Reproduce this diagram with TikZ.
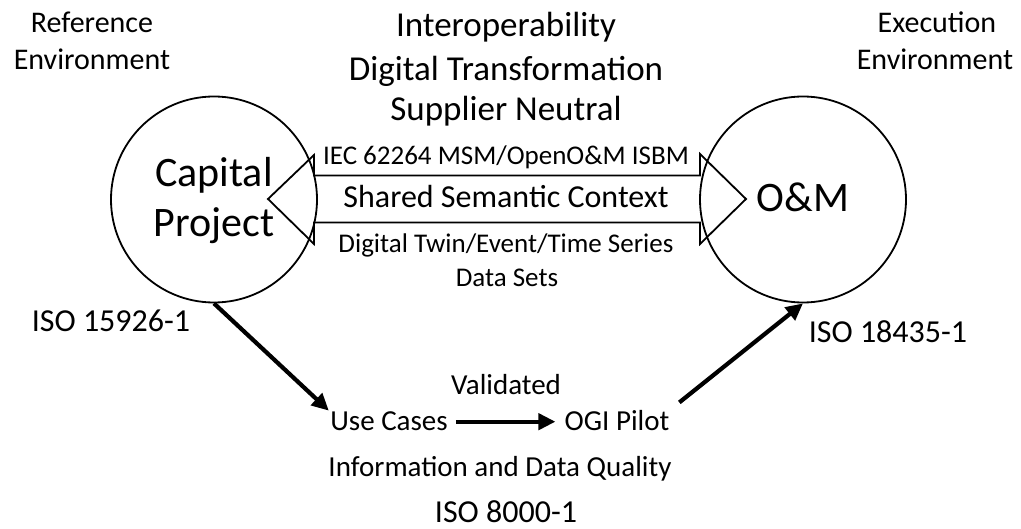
\documentclass[tikz,border=0pt]{standalone}
\usepackage{fontspec}
\setmainfont{Carlito}
\usetikzlibrary{arrows.meta}
\begin{document}
\begin{tikzpicture}[x=1pt,y=-1pt,
  lbl/.style={anchor=base, inner sep=2pt},
  env/.style={lbl, font=\fontsize{30}{36}\selectfont},
  headline/.style={lbl, font=\fontsize{35}{42}\selectfont},
  std/.style={lbl, font=\fontsize{27}{32}\selectfont},
  ctx/.style={lbl, font=\fontsize{32}{38}\selectfont},
  big/.style={lbl, font=\fontsize{42}{50}\selectfont},
  iso/.style={lbl, font=\fontsize{32}{38}\selectfont},
  flow/.style={lbl, font=\fontsize{29}{35}\selectfont},
  ring/.style={circle, draw, line width=1.8pt, minimum size=206pt, inner sep=0pt},
  fat arrow/.style={line width=4.2pt, -{Triangle[length=17pt,width=16pt]}},
]
\useasboundingbox (0,0) rectangle (1021,529);

% shared-context double block arrow
\draw[line width=1.8pt, fill=white, line join=miter]
  (268,199) -- (314,155) -- (314,175.5) -- (700,175.5) -- (700,154)
  -- (746,199) -- (700,244) -- (700,222.5) -- (314,222.5) -- (314,244) -- cycle;

% environments
\node[ring] (cp) at (214,199.5) {};
\node[ring] (om) at (803,199.5) {};
\node[big] (capital) at (214,187) {Capital};
\node[big] (project) at (214,237) {Project};
\node[big] (omtext) at (803,212) {O\&M};

% headings
\node[env] (ref1) at (92,33) {Reference};
\node[env] (ref2) at (92,70) {Environment};
\node[env] (exe1) at (937,33) {Execution};
\node[env] (exe2) at (935,70) {Environment};
\node[headline] (h1) at (506,37) {Interoperability};
\node[headline] (h2) at (506,81) {Digital Transformation};
\node[headline] (h3) at (506,121) {Supplier Neutral};

% block arrow labels
\node[std] (iec) at (506,165) {IEC 62264 MSM/OpenO\&M ISBM};
\node[ctx] (shared) at (506,208) {Shared Semantic Context};
\node[std] (twin) at (506,253) {Digital Twin/Event/Time Series};
\node[std] (sets) at (507,287) {Data Sets};

% standards
\node[iso] (iso1) at (111,332) {ISO 15926-1};
\node[iso] (iso2) at (888,343) {ISO 18435-1};
\node[iso] (iso3) at (506,522) {ISO 8000-1};

% validation flow
\node[flow] (val) at (506,395) {Validated};
\node[flow] (uc) at (389,431) {Use Cases};
\node[flow] (ogi) at (617,431) {OGI Pilot};
\node[flow] (idq) at (500,477) {Information and Data Quality};

\draw[fat arrow, shorten >=-1pt] (cp.south) -- (uc.north west);
\draw[fat arrow, shorten <=10pt] (ogi.north east) -- (om.south);
\draw[fat arrow, shorten <=6pt, shorten >=7pt] (uc.east) -- (uc.east -| ogi.west);
\end{tikzpicture}
\end{document}
